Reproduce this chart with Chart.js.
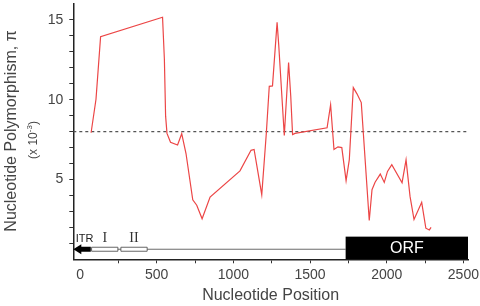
<!DOCTYPE html>
<html><head><meta charset="utf-8">
<script src="https://cdn.jsdelivr.net/npm/chart.js@4.4.0/dist/chart.umd.min.js"></script>
<style>html,body{margin:0;padding:0;background:#fff;}</style>
</head><body>
<canvas id="c" width="480" height="306"></canvas>
<script>
// ---- data ----
const positions = [72,104,134,538,550,558,567,590,636,663,691,735,761,796,848,1043,1115,1135,1185,1215,1234,1255,1285,1296,1332,1360,1374,1386,1402,1611,1634,1656,1682,1707,1735,1756,1782,1806,1834,1886,1904,1924,1958,1984,2005,2033,2100,2126,2152,2178,2228,2255,2278,2289];
const piValues  = [7.93,10.03,13.95,15.17,12.54,8.97,7.89,7.34,7.16,7.87,6.63,3.73,3.39,2.54,3.9,5.54,6.83,6.88,4.05,7.93,10.84,10.87,14.85,13.38,7.76,12.33,10.23,7.82,7.89,8.24,9.69,6.88,7.05,7.0,4.93,6.25,10.76,10.37,9.82,2.43,4.36,4.83,5.34,4.82,5.51,5.93,4.8,6.23,3.94,2.49,3.57,1.95,1.84,2.0];
const thresholdPi = 8;
const xTickLabels = [0,500,1000,1500,2000,2500];
const yTickLabels = [5,10,15];
const xMin = -44, xMax = 2530, yMin = 0, yMax = 16;
// gene map (nucleotide positions)
const geneNames  = ['ITR','I','II','ORF'];
const geneStarts = [-44, 72, 263, 1732];
const geneEnds   = [70, 250, 441, 2530];
const mapLevel = 0.63;   // y level of the gene map backbone
const orfTop = 1.42;

const FONT = "'Liberation Sans', Arial, sans-serif";
const SERIF = "'Liberation Serif', 'Times New Roman', serif";

const overlay = {
  id: 'overlay',
  beforeDatasetsDraw(chart) {
    const {ctx, scales:{x, y}} = chart;
    ctx.save();
    const yc = y.getPixelForValue(mapLevel);
    ctx.strokeStyle = '#444'; ctx.lineWidth = 0.8;
    ctx.beginPath(); ctx.moveTo(x.getPixelForValue(geneEnds[0]), yc); ctx.lineTo(x.getPixelForValue(geneStarts[3]), yc); ctx.stroke();
    const tip = x.getPixelForValue(geneStarts[0]), tail = x.getPixelForValue(geneEnds[0]);
    const headEnd = tip + 8;
    ctx.fillStyle = '#000';
    ctx.beginPath(); ctx.moveTo(tip, yc); ctx.lineTo(headEnd, yc-5); ctx.lineTo(headEnd, yc+5); ctx.closePath(); ctx.fill();
    ctx.fillRect(headEnd-1, yc-2.5, tail-headEnd+1, 5);
    for (let i = 1; i <= 2; i++) {
      const x0 = x.getPixelForValue(geneStarts[i]), x1 = x.getPixelForValue(geneEnds[i]);
      ctx.fillStyle = '#fff'; ctx.strokeStyle = '#555'; ctx.lineWidth = 0.9;
      ctx.beginPath(); ctx.rect(x0+0.5, yc-2, x1-x0-1, 4); ctx.fill(); ctx.stroke();
    }
    const ox0 = x.getPixelForValue(geneStarts[3]), ox1 = x.getPixelForValue(geneEnds[3]);
    const oy0 = y.getPixelForValue(orfTop), oy1 = y.getPixelForValue(0);
    ctx.fillStyle = '#000'; ctx.fillRect(ox0, oy0, ox1-ox0, oy1-oy0);
    ctx.fillStyle = '#fff'; ctx.font = '16px ' + FONT; ctx.textAlign = 'center'; ctx.textBaseline = 'middle';
    ctx.fillText(geneNames[3], (ox0+ox1)/2, (oy0+oy1)/2 + 1);
    ctx.fillStyle = '#222'; ctx.font = '11px ' + FONT; ctx.textBaseline = 'middle';
    ctx.fillText(geneNames[0], x.getPixelForValue(30), y.getPixelForValue(1.28));
    ctx.fillStyle = '#333'; ctx.font = '14px ' + SERIF;
    ctx.fillText(geneNames[1], x.getPixelForValue((geneStarts[1]+geneEnds[1])/2), y.getPixelForValue(1.33));
    ctx.fillText(geneNames[2], x.getPixelForValue((geneStarts[2]+geneEnds[2])/2), y.getPixelForValue(1.33));
    ctx.restore();
  },
  afterDraw(chart) {
    const {ctx, chartArea:a} = chart;
    ctx.save();
    ctx.fillStyle = '#444';
    ctx.font = '16px ' + FONT; ctx.textAlign = 'center'; ctx.textBaseline = 'middle';
    ctx.fillText('Nucleotide Position', (a.left + a.right)/2, 296);
    ctx.save();
    ctx.translate(12, 131); ctx.rotate(-Math.PI/2);
    ctx.fillText('Nucleotide Polymorphism, \u03C0', 0, 0);
    ctx.restore();
    ctx.save();
    ctx.translate(34, 140); ctx.rotate(-Math.PI/2);
    const p1 = '(x 10', p2 = '-3', p3 = ')';
    ctx.font = '12px ' + FONT; const w1 = ctx.measureText(p1).width, w3 = ctx.measureText(p3).width;
    ctx.font = '8px ' + FONT; const w2 = ctx.measureText(p2).width;
    let sx = -(w1+w2+w3)/2;
    ctx.textAlign = 'left';
    ctx.font = '12px ' + FONT; ctx.fillText(p1, sx, 0); sx += w1;
    ctx.font = '8px ' + FONT; ctx.fillText(p2, sx, -4); sx += w2;
    ctx.font = '12px ' + FONT; ctx.fillText(p3, sx, 0);
    ctx.restore();
    ctx.restore();
  }
};

new Chart(document.getElementById('c'), {
  type: 'line',
  data: {
    datasets: [
      { data: positions.map((p, i) => ({x: p, y: piValues[i]})), borderColor: '#ec4646', borderWidth: 1.2, pointRadius: 0, tension: 0, fill: false },
      { data: [{x: xMin, y: thresholdPi}, {x: xMax, y: thresholdPi}], borderColor: '#555', borderWidth: 1.1, borderDash: [3, 3], pointRadius: 0, fill: false }
    ]
  },
  options: {
    responsive: false, animation: false, devicePixelRatio: 1,
    layout: { padding: { top: 4, right: 12, left: 0, bottom: 0 } },
    plugins: { legend: { display: false }, tooltip: { enabled: false } },
    scales: {
      x: {
        type: 'linear', min: xMin, max: xMax,
        afterBuildTicks: ax => { ax.ticks = ax.ticks.filter(t => t.value >= 0 && t.value % 250 === 0); },
        afterFit: ax => { ax.height = 46.7; ax.paddingLeft = 0; ax.paddingRight = 0; },
        ticks: { stepSize: 250, includeBounds: false, autoSkip: false, maxRotation: 0, padding: 3, color: '#444', font: { family: FONT, size: 14 },
          callback: v => xTickLabels.includes(v) ? String(v) : '' },
        grid: { drawOnChartArea: false, drawTicks: true, tickLength: 4, tickColor: c => (c.tick && c.tick.value === 0) ? 'rgba(0,0,0,0)' : '#333' },
        border: { display: true, color: '#222', width: 1.5 }
      },
      y: {
        type: 'linear', min: yMin, max: yMax,
        afterBuildTicks: ax => { ax.ticks = ax.ticks.filter(t => t.value >= 1 && t.value <= 15); },
        afterFit: ax => { ax.width = 73.3; ax.paddingTop = 0; ax.paddingBottom = 0; },
        ticks: { stepSize: 1, includeBounds: false, autoSkip: false, padding: 6, color: '#444', font: { family: FONT, size: 14 },
          callback: v => yTickLabels.includes(v) ? String(v) : '' },
        grid: { drawOnChartArea: false, drawTicks: true, tickLength: 4, tickColor: '#333' },
        border: { display: true, color: '#222', width: 1.5 }
      }
    }
  },
  plugins: [overlay]
});
</script>
</body></html>
